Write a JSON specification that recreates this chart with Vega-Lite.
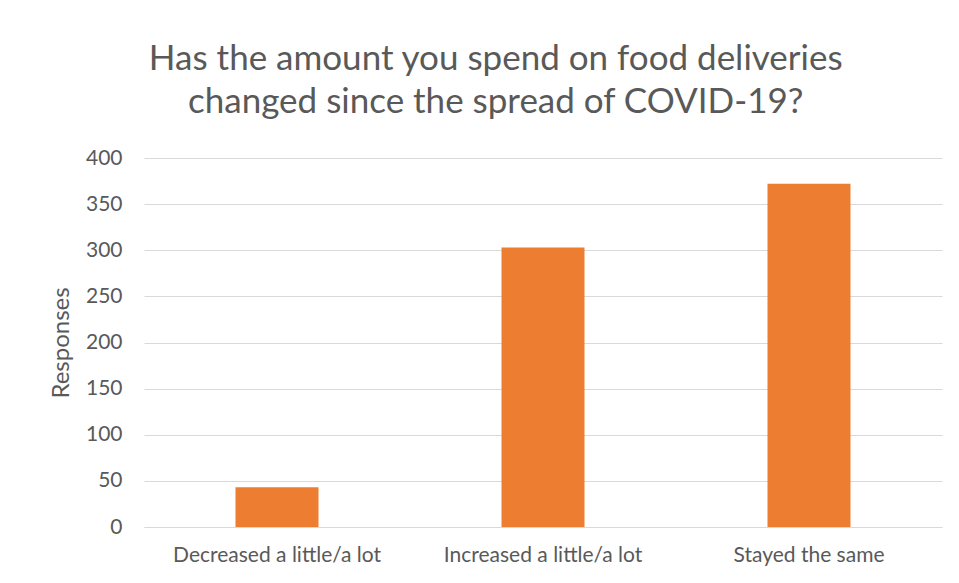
{
  "$schema": "https://vega.github.io/schema/vega-lite/v6.json",
  "width": 798,
  "height": 369,
  "autosize": {"type": "none"},
  "padding": {"left": 144, "top": 158, "right": 17, "bottom": 56},
  "background": "white",
  "title": {
    "text": ["Has the amount you spend on food deliveries", "changed since the spread of COVID-19?"],
    "anchor": "middle",
    "frame": "bounds",
    "font": "Lato",
    "fontSize": 35,
    "fontWeight": "normal",
    "color": "#595959",
    "lineHeight": 43,
    "offset": 27
  },
  "data": {
    "values": [
      {"answer": "Decreased a little/a lot", "responses": 43},
      {"answer": "Increased a little/a lot", "responses": 303},
      {"answer": "Stayed the same", "responses": 372}
    ]
  },
  "mark": {"type": "bar", "color": "#ED7D31"},
  "encoding": {
    "x": {
      "field": "answer",
      "type": "nominal",
      "sort": null,
      "scale": {"paddingInner": 0.688, "paddingOuter": 0.344},
      "axis": {
        "title": null,
        "labelAngle": 0,
        "labelFont": "Lato",
        "labelFontSize": 21,
        "labelColor": "#595959",
        "labelPadding": 17,
        "labelLimit": 0,
        "ticks": false,
        "domainColor": "#d9d9d9",
        "domainWidth": 1
      }
    },
    "y": {
      "field": "responses",
      "type": "quantitative",
      "scale": {"domain": [0, 400]},
      "axis": {
        "title": "Responses",
        "titleFont": "Lato",
        "titleFontSize": 24,
        "titleFontWeight": "normal",
        "titleColor": "#595959",
        "titlePadding": 12,
        "values": [0, 50, 100, 150, 200, 250, 300, 350, 400],
        "labelFont": "Lato",
        "labelFontSize": 21,
        "labelColor": "#595959",
        "labelPadding": 22,
        "ticks": false,
        "domain": false,
        "gridColor": "#d9d9d9",
        "gridWidth": 1
      }
    }
  },
  "config": {"view": {"stroke": null}}
}
